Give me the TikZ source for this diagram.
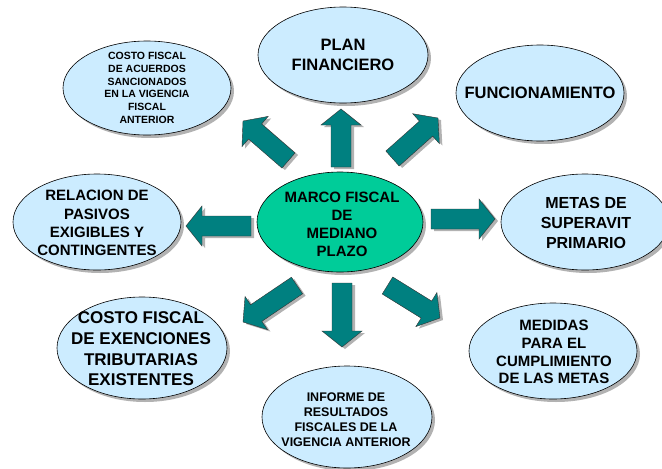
\documentclass[tikz,border=0pt]{standalone}
\usepackage{fontspec}
\setmainfont{Liberation Sans}
\usepackage{tikz}
\usetikzlibrary{shapes.geometric,shadows,calc}

\definecolor{burbuja}{RGB}{204,236,255}
\definecolor{centro}{RGB}{0,204,153}
\definecolor{flecha}{RGB}{0,128,128}
\definecolor{sombra}{RGB}{178,178,178}

\tikzset{
	burbuja/.style={ellipse, draw=black, line width=0.6pt, fill=burbuja, inner sep=0pt,
		drop shadow={shadow xshift=3pt, shadow yshift=-3pt, fill=sombra, opacity=1}},
	texto/.style={align=center, inner sep=0pt},
	flechabloque/.style={draw=black!80, line width=0.4pt, fill=flecha,
		drop shadow={shadow xshift=3pt, shadow yshift=-2pt, fill=sombra, opacity=1}}
}

% flecha gruesa de (#1) a (#2)
\newcommand{\blockarrow}[2]{%
	\path ($(#2)!16pt!(#1)$) coordinate (base);
	\path[flechabloque] ($(#1)!10pt!90:(#2)$) -- ($(base)!10pt!90:(#2)$) -- ($(base)!20pt!90:(#2)$)
		-- (#2) -- ($(base)!20pt!-90:(#2)$) -- ($(base)!10pt!-90:(#2)$) -- ($(#1)!10pt!-90:(#2)$) -- cycle;
}

\begin{document}
\begin{tikzpicture}[x=1pt,y=-1pt]

	\useasboundingbox (0,0) rectangle (662,469);

	% elipses
	\node[burbuja, minimum width=170, minimum height=96] (plan) at (343,55) {};
	\node[burbuja, minimum width=168, minimum height=94] (acuerdos) at (147,88) {};
	\node[burbuja, minimum width=168, minimum height=96] (funcionamiento) at (540,93) {};
	\node[burbuja, minimum width=168, minimum height=96] (pasivos) at (97,222) {};
	\node[burbuja, minimum width=168, minimum height=96] (metas) at (585,222) {};
	\node[burbuja, fill=centro, minimum width=166, minimum height=100] (marco) at (340,222) {};
	\node[burbuja, minimum width=170, minimum height=102] (exenciones) at (142,348) {};
	\node[burbuja, minimum width=170, minimum height=102] (informe) at (347,417) {};
	\node[burbuja, minimum width=168, minimum height=96] (medidas) at (553,351) {};

	% textos
	\node[texto, font=\bfseries\fontsize{16.5}{20.7}\selectfont] (plan-t) at (plan) {PLAN\\FINANCIERO};
	\node[texto, font=\bfseries\fontsize{10.5}{12.7}\selectfont] (acuerdos-t) at (acuerdos) {COSTO FISCAL\\DE ACUERDOS\\SANCIONADOS\\EN LA VIGENCIA\\FISCAL\\ANTERIOR};
	\node[texto, font=\bfseries\fontsize{16.5}{20}\selectfont] (funcionamiento-t) at (funcionamiento) {FUNCIONAMIENTO};
	\node[texto, font=\bfseries\fontsize{15}{18.3}\selectfont] (pasivos-t) at (97,223) {RELACION DE\\PASIVOS\\EXIGIBLES Y\\CONTINGENTES};
	\node[texto, font=\bfseries\fontsize{16}{20}\selectfont] (metas-t) at (586,223) {METAS DE\\SUPERAVIT\\PRIMARIO};
	\node[texto, font=\bfseries\fontsize{15}{18}\selectfont] (marco-t) at (342,224) {MARCO FISCAL\\DE\\MEDIANO\\PLAZO};
	\node[texto, font=\bfseries\fontsize{17}{20.6}\selectfont] (exenciones-t) at (141,349) {COSTO FISCAL\\DE EXENCIONES\\TRIBUTARIAS\\EXISTENTES};
	\node[texto, font=\bfseries\fontsize{12.5}{15}\selectfont] (informe-t) at (346,420) {INFORME DE\\RESULTADOS\\FISCALES DE LA\\VIGENCIA ANTERIOR};
	\node[texto, font=\bfseries\fontsize{15}{17.8}\selectfont] (medidas-t) at (554,352) {MEDIDAS\\PARA EL\\CUMPLIMIENTO\\DE LAS METAS};

	% extremos de las flechas
	\coordinate (a1) at (341,167);   \coordinate (b1) at (341,109);
	\coordinate (a2) at (288.5,160.5); \coordinate (b2) at (243,121);
	\coordinate (a3) at (392.5,158.5); \coordinate (b3) at (438,118);
	\coordinate (a4) at (251,226);   \coordinate (b4) at (186,226);
	\coordinate (a5) at (431,219);   \coordinate (b5) at (495,219);
	\coordinate (a6) at (342,283);   \coordinate (b6) at (342,347);
	\coordinate (a7) at (297,285.5); \coordinate (b7) at (243,322);
	\coordinate (a8) at (387.5,285.5); \coordinate (b8) at (440,318);

	\foreach \i in {1,...,8}{
		\blockarrow{a\i}{b\i}
	}

\end{tikzpicture}
\end{document}
